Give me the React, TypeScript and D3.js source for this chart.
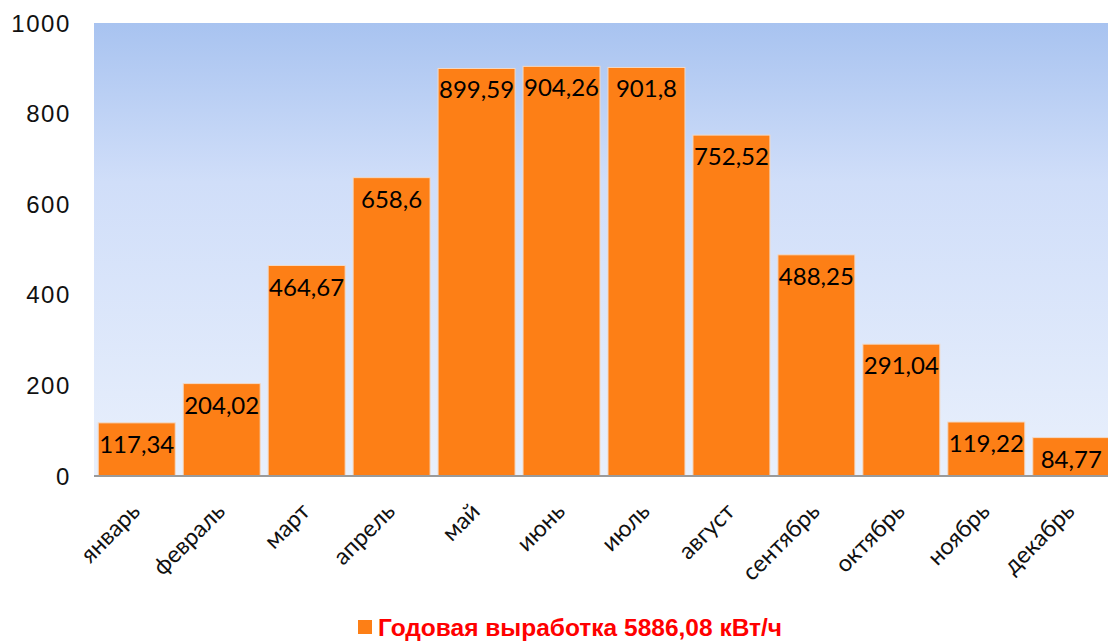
import React from 'react';
import * as d3 from 'd3';

const months = ['январь', 'февраль', 'март', 'апрель', 'май', 'июнь', 'июль', 'август', 'сентябрь', 'октябрь', 'ноябрь', 'декабрь'];
const output = [117.34, 204.02, 464.67, 658.6, 899.59, 904.26, 901.8, 752.52, 488.25, 291.04, 119.22, 84.77];
const yTicks = [0, 200, 400, 600, 800, 1000];
const legendLabel = 'Годовая выработка 5886,08 кВт/ч';

const W = 1108;
const H = 643;
const plot = { left: 94, right: 1114, top: 23, bottom: 476 };

const App = () => {
  const x = d3.scaleBand<string>().domain(months).range([plot.left, plot.right]).paddingInner(0.094).paddingOuter(0.05);
  const y = d3.scaleLinear().domain([0, 1000]).range([plot.bottom, plot.top]);
  const fmt = (v: number) => String(v).replace('.', ',');

  return (
    <div style={{ position: 'absolute', left: 0, top: 0, background: 'white' }}>
      <svg width={W} height={H} style={{ display: 'block' }}>
        <defs>
          <linearGradient id="bg" x1="0" y1="0" x2="0" y2="1">
            <stop offset="0" stopColor="#a8c3f0" />
            <stop offset="0.35" stopColor="#d0def9" />
            <stop offset="1" stopColor="#e9f0fc" />
          </linearGradient>
        </defs>
        <rect x={plot.left} y={plot.top} width={W - plot.left} height={plot.bottom - plot.top} fill="url(#bg)" />

        {/* y axis labels */}
        {yTicks.map((t) => (
          <text key={t} x={71} y={y(t)} dy="0.36em" textAnchor="end" fontFamily="'Liberation Sans', Arial, sans-serif" fontSize={24} letterSpacing={1.6} fill="#111">
            {t}
          </text>
        ))}

        {/* bars */}
        {output.map((v, i) => {
          const m = months[i];
          const bx = x(m) as number;
          return (
            <g key={m}>
              <rect x={bx} y={y(v)} width={x.bandwidth()} height={plot.bottom - y(v)} fill="#fd7f16" stroke="#f3d9c4" strokeWidth={1} />
              <text x={bx + x.bandwidth() / 2} y={y(v) + 30} textAnchor="middle" fontFamily="Lato, 'Open Sans', sans-serif" fontSize={24} fill="#000">
                {fmt(v)}
              </text>
            </g>
          );
        })}

        <line x1={plot.left} x2={W} y1={plot.bottom} y2={plot.bottom} stroke="#9a9a9a" strokeWidth={2} />

        {/* x labels */}
        {months.map((m) => {
          const cx = (x(m) as number) + x.bandwidth() / 2 - 1;
          const cy = plot.bottom + 31;
          return (
            <text key={m} transform={`translate(${cx},${cy}) rotate(-45)`} textAnchor="end" dy="0.35em" fontFamily="Lato, 'Open Sans', sans-serif" fontSize={23.5} fill="#111">
              {m}
            </text>
          );
        })}

        {/* legend */}
        <rect x={358} y={620} width={14} height={14} fill="#fd7f16" />
        <text x={378} y={636} fontFamily="'Liberation Sans', Arial, sans-serif" fontWeight="bold" fontSize={24.5} fill="#ff0000">
          {legendLabel}
        </text>
      </svg>
    </div>
  );
};

export default App;
